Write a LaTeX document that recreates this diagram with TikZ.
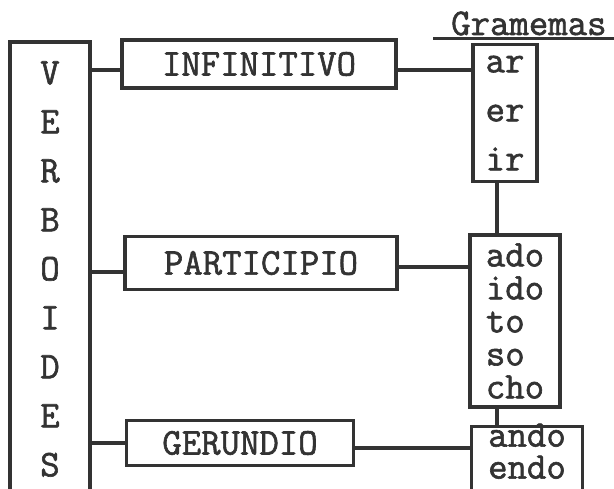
\documentclass[tikz,border=0pt]{standalone}
\usepackage{fontspec}
\setmonofont{Latin Modern Mono}[FakeBold=1.6]
\usetikzlibrary{positioning}
\definecolor{ink}{HTML}{333333}

\begin{document}
\begin{tikzpicture}[x=1pt,y=-1pt,
  font=\ttfamily\fontsize{37.7}{49}\selectfont,text=ink,
  bx/.style={draw=ink,line width=3.2pt,inner sep=0pt},
  gm/.style={bx,align=left},
  ln/.style={draw=ink,line width=3.2pt}]
  \useasboundingbox (0,0) rectangle (614,489);
  \clip (0,0) rectangle (614,489);
  % verboides column
  \node[bx,align=center,minimum width=80,minimum height=454](verb) at (50,269){V\\E\\R\\B\\O\\I\\D\\E\\S};
  \node[bx,minimum width=274,minimum height=48](inf) at (259,64){INFINITIVO};
  \node[bx,minimum width=272,minimum height=53](part) at (261,263){PARTICIPIO};
  \node[bx,minimum width=227,minimum height=45](ger) at (240,443){GERUNDIO};
  % gramemas
  \node[anchor=base west,inner sep=0pt](gram) at (451,35){Gramemas};
  \node[gm,minimum width=64,minimum height=137](infg) at (505,113){ar\\er\\ir};
  \node[gm,font=\ttfamily\fontsize{37.7}{33}\selectfont,minimum width=90,minimum height=172](partg) at (515,321){ado\\ido\\to\\so\\cho};
  \node[gm,font=\ttfamily\fontsize{37.7}{32}\selectfont,anchor=north,minimum width=111,inner ysep=0pt,text height=52pt,text depth=40pt](gerg) at (527,425){ando\\endo};
  \draw[ln]([xshift=-18pt,yshift=-3pt]gram.south west)--([xshift=8pt,yshift=-3pt]gram.south east);
  \draw[ln](verb.east|-0,70)--(inf.west|-0,70);
  \draw[ln](verb.east|-0,272)--(part.west|-0,272);
  \draw[ln](verb.east|-0,443)--(ger.west|-0,443);
  \draw[ln](inf.east|-0,70)--(infg.west|-0,70);
  \draw[ln](part.east|-0,267)--(partg.west|-0,267);
  \draw[ln](ger.east|-0,448)--(gerg.west|-0,448);
  \draw[ln](497,0|-infg.south)--(497,0|-partg.north);
  \draw[ln](497,0|-partg.south)--(497,0|-gerg.north);
\end{tikzpicture}
\end{document}
